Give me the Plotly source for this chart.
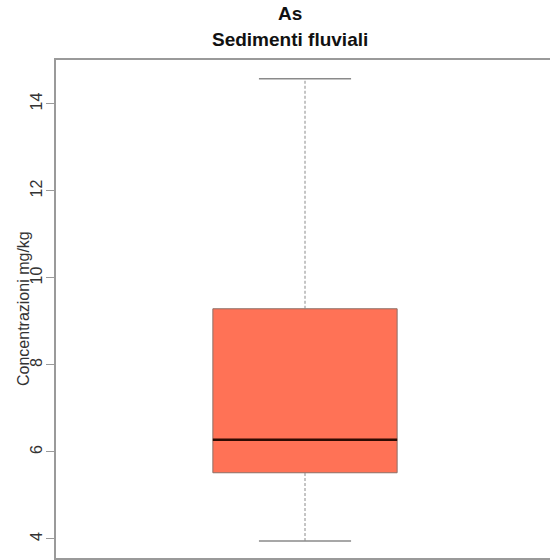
import plotly.graph_objects as go

# ---- data ----
category = ["As"]
lower_whisker = [3.95]
q1 = [5.52]
median = [6.28]
q3 = [9.29]
upper_whisker = [14.58]
y_ticks = [4, 6, 8, 10, 12, 14]

title_main = "As"
title_sub = "Sedimenti fluviali"
y_title = "Concentrazioni mg/kg"

FONT = "Liberation Sans, Arial, sans-serif"
box_w = 0.37
cap_half = box_w / 4
xpos = [1]

fig = go.Figure()

# whiskers (dashed) and caps (solid)
for i, x in enumerate(xpos):
    fig.add_trace(go.Scatter(x=[x, x], y=[q3[i], upper_whisker[i]], mode="lines",
                             line=dict(color="#8a8a8a", width=1, dash="3px,2px"),
                             showlegend=False, hoverinfo="skip"))
    fig.add_trace(go.Scatter(x=[x, x], y=[lower_whisker[i], q1[i]], mode="lines",
                             line=dict(color="#8a8a8a", width=1, dash="3px,2px"),
                             showlegend=False, hoverinfo="skip"))
    for yv in (upper_whisker[i], lower_whisker[i]):
        fig.add_trace(go.Scatter(x=[x - cap_half, x + cap_half], y=[yv, yv], mode="lines",
                                 line=dict(color="#8a8a8a", width=1.5),
                                 showlegend=False, hoverinfo="skip"))

# box
fig.add_trace(go.Box(
    x=xpos, q1=q1, median=median, q3=q3,
    lowerfence=q1, upperfence=q3,
    width=box_w, whiskerwidth=0,
    fillcolor="#FF7256", line=dict(color="#8c6f66", width=1),
    boxpoints=False, showlegend=False, name=category[0],
))

# median line
for i, x in enumerate(xpos):
    fig.add_trace(go.Scatter(x=[x - box_w / 2, x + box_w / 2], y=[median[i], median[i]],
                             mode="lines", line=dict(color="#2e0b02", width=2.6),
                             showlegend=False, hoverinfo="skip"))

plot_h = 560 - 60 - 2
fig.update_layout(
    width=550, height=560,
    margin=dict(l=56, r=0, t=60, b=2, autoexpand=False),
    paper_bgcolor="white", plot_bgcolor="white",
    font=dict(family=FONT, color="#333333"),
    xaxis=dict(range=[0.5, 1.5 - 4 / 498], showgrid=False, zeroline=False,
               showticklabels=False, ticks="", showline=True, mirror="all",
               linecolor="#9a9a9a", linewidth=1.5),
    yaxis=dict(range=[3.56, 15.01], showgrid=False, zeroline=False,
               tickvals=y_ticks, ticktext=[str(t) for t in y_ticks],
               ticks="outside", ticklen=8, tickcolor="#9a9a9a", tickwidth=1,
               tickangle=-90, tickfont=dict(size=16, color="#333333"),
               ticklabelstandoff=-2,
               showline=True, linecolor="#9a9a9a", linewidth=1.5),
    annotations=[
        dict(text="<b>" + title_main + "</b>", x=(290 - 56) / 494, y=1 + (60 - 14) / plot_h,
             xref="paper", yref="paper",
             showarrow=False, font=dict(size=19, color="#111111"), yanchor="middle"),
        dict(text="<b>" + title_sub + "</b>", x=(290 - 56) / 494, y=1 + (60 - 40) / plot_h,
             xref="paper", yref="paper",
             showarrow=False, font=dict(size=19, color="#111111"), yanchor="middle"),
        dict(text=y_title, x=(23 - 56) / 494, y=0.5, xref="paper", yref="paper",
             showarrow=False, textangle=-90, font=dict(size=16, color="#333333"),
             xanchor="center", yanchor="middle"),
    ],
)

fig.write_html("out.html", config={"displayModeBar": False},
               post_script="document.body.style.margin='0';")
